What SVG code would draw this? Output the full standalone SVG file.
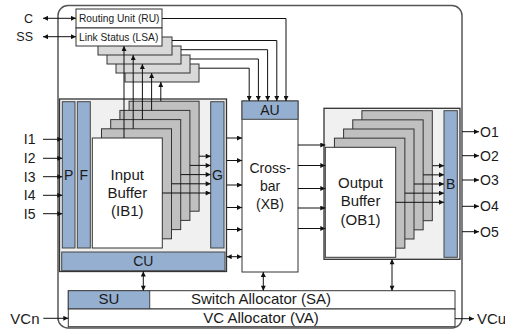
<svg xmlns="http://www.w3.org/2000/svg" width="505" height="331" viewBox="0 0 505 331">
<defs>
<marker id="ah" viewBox="0 0 6 6" refX="6" refY="3" markerWidth="6" markerHeight="5" markerUnits="userSpaceOnUse" orient="auto-start-reverse">
<path d="M0,0 L6,3 L0,6 z" fill="#111"/>
</marker>
<style>
text{font-family:"Liberation Sans",Arial,sans-serif;fill:#1a1a1a}
.box{fill:#fff;stroke:#333;stroke-width:1}
.blue{fill:#95afd0;stroke:#444;stroke-width:1}
.cont{fill:#f0f0f0;stroke:#333;stroke-width:1.3}
.lay{fill:#c0c0c0;stroke:#333;stroke-width:1}
.lsa{fill:#d9d9d9;stroke:#333;stroke-width:1}
.ln{fill:none;stroke:#111;stroke-width:1}
.ar{fill:none;stroke:#111;stroke-width:1;marker-end:url(#ah)}
.dar{fill:none;stroke:#111;stroke-width:1;marker-end:url(#ah);marker-start:url(#ah)}
.s10{font-size:10.2px}
.s12{font-size:12.5px}
.s14{font-size:14px}
.s15{font-size:15px}
.mid{text-anchor:middle}
.end{text-anchor:end}
</style>
</defs>
<rect x="58" y="5.5" width="404" height="322.5" rx="10" fill="#fff" stroke="#555" stroke-width="1.5"/>

<g id="lsa-stack">
<rect class="lsa" x="125" y="64" width="74" height="18"/>
<rect class="lsa" x="116" y="55" width="74" height="18"/>
<rect class="lsa" x="107" y="46" width="74" height="18"/>
<rect class="lsa" x="98" y="37" width="74" height="18"/>
</g>
<g id="ru">
<rect class="box" x="76" y="9" width="86" height="19"/>
<text class="s10" x="79" y="22">Routing Unit (RU)</text>
</g>
<g id="lsa">
<rect class="box" x="76" y="28" width="86" height="18"/>
<text class="s10" x="79" y="40.5">Link Status (LSA)</text>
</g>

<g id="input-unit">
<rect class="cont" x="59.5" y="99" width="167" height="172.5"/>
<g id="p"><rect class="blue" x="62.3" y="101.7" width="12.7" height="146.3"/><text class="s14 mid" x="68.6" y="179.5">P</text></g>
<g id="f"><rect class="blue" x="77.3" y="101.7" width="13" height="146.3"/><text class="s14 mid" x="83.8" y="179.5">F</text></g>
<g id="g"><rect class="blue" x="210.7" y="101.7" width="13.3" height="146.3"/><text class="s14 mid" x="217.4" y="179.5">G</text></g>
<g id="ib">
<rect class="lay" x="129.1" y="101.2" width="70" height="110"/>
<rect class="lay" x="119.9" y="110.4" width="70" height="110"/>
<rect class="lay" x="110.7" y="119.6" width="70" height="110"/>
<rect class="lay" x="101.5" y="128.8" width="70" height="110"/>
<rect class="box" x="92.3" y="138" width="70" height="110"/>
<text class="s15 mid" x="127.3" y="179.5">Input</text>
<text class="s15 mid" x="127.3" y="197.8">Buffer</text>
<text class="s15 mid" x="127.3" y="216">(IB1)</text>
</g>
<g id="cu"><rect class="blue" x="61.7" y="252" width="163.3" height="18.7"/><text class="s14 mid" x="143.3" y="266">CU</text></g>
</g>

<g id="xb">
<rect class="box" x="242" y="101" width="56" height="171"/>
<rect class="blue" x="242" y="101" width="56" height="18.3"/>
<text class="s14 mid" x="270" y="115">AU</text>
<text class="s14 mid" x="270" y="173.3">Cross-</text>
<text class="s14 mid" x="270" y="190.8">bar</text>
<text class="s14 mid" x="270" y="208.5">(XB)</text>
</g>

<g id="output-unit">
<rect class="cont" x="324" y="108.3" width="136" height="151"/>
<g id="ob">
<rect class="lay" x="361.9" y="110.7" width="70.4" height="110"/>
<rect class="lay" x="352.75" y="119.85" width="70.4" height="110"/>
<rect class="lay" x="343.6" y="129" width="70.4" height="110"/>
<rect class="lay" x="334.45" y="138.15" width="70.4" height="110"/>
<rect class="box" x="325.3" y="147.3" width="70.4" height="110"/>
<text class="s15 mid" x="360.5" y="187.5">Output</text>
<text class="s15 mid" x="360.5" y="206">Buffer</text>
<text class="s15 mid" x="360.5" y="224.5">(OB1)</text>
</g>
<g id="b"><rect class="blue" x="444" y="110.7" width="13.3" height="146.6"/><text class="s14 mid" x="450.6" y="189">B</text></g>
</g>

<g id="allocators">
<rect class="box" x="68.3" y="290.7" width="386.7" height="18.3"/>
<rect class="blue" x="68.3" y="290.7" width="81.4" height="18.3"/>
<text class="s15 mid" x="109" y="304.3">SU</text>
<text class="s15 mid" x="261" y="304.3">Switch Allocator (SA)</text>
<rect class="box" x="68.3" y="309" width="386.7" height="17.7"/>
<text class="s15 mid" x="261" y="322.5">VC Allocator (VA)</text>
</g>

<g id="labels">
<text class="s12 end" x="33" y="22.8">C</text>
<text class="s12 end" x="33" y="41">SS</text>
<text class="s14 end" x="35.5" y="144.2">I1</text>
<text class="s14 end" x="35.5" y="163.2">I2</text>
<text class="s14 end" x="35.5" y="181.6">I3</text>
<text class="s14 end" x="35.5" y="200.2">I4</text>
<text class="s14 end" x="35.5" y="218.6">I5</text>
<text class="s14" x="480" y="136.7">O1</text>
<text class="s14" x="480" y="160.7">O2</text>
<text class="s14" x="480" y="185">O3</text>
<text class="s14" x="480" y="211.3">O4</text>
<text class="s14" x="480" y="236.7">O5</text>
<text class="s15 end" x="39.5" y="323.5">VCn</text>
<text class="s15" x="477" y="324">VCu</text>
</g>

<g id="connectors">
<line class="dar" x1="43" y1="18.3" x2="76" y2="18.3"/>
<line class="dar" x1="43" y1="36.7" x2="76" y2="36.7"/>
<line class="ar" x1="124" y1="138" x2="124" y2="46"/>
<line class="ar" x1="133.2" y1="128.8" x2="133.2" y2="55"/>
<line class="ar" x1="142.4" y1="119.6" x2="142.4" y2="64"/>
<line class="ar" x1="151.6" y1="110.4" x2="151.6" y2="73"/>
<line class="ar" x1="160.8" y1="101.2" x2="160.8" y2="82"/>
<path class="ar" d="M162,18.5 H286 V101"/>
<path class="ar" d="M172,40.5 H276.8 V101"/>
<path class="ar" d="M181,49.7 H267.6 V101"/>
<path class="ar" d="M190,59 H258.4 V101"/>
<path class="ar" d="M199,68.2 H249.2 V101"/>
<line class="ar" x1="43" y1="139.3" x2="62.3" y2="139.3"/>
<line class="ar" x1="43" y1="158.3" x2="62.3" y2="158.3"/>
<line class="ar" x1="43" y1="176.7" x2="62.3" y2="176.7"/>
<line class="ar" x1="43" y1="195.3" x2="62.3" y2="195.3"/>
<line class="ar" x1="43" y1="213.7" x2="62.3" y2="213.7"/>
<line class="ar" x1="162.3" y1="193" x2="210.7" y2="193"/>
<line class="ar" x1="171.5" y1="183.8" x2="210.7" y2="183.8"/>
<line class="ar" x1="180.7" y1="174.6" x2="210.7" y2="174.6"/>
<line class="ar" x1="189.9" y1="165.4" x2="210.7" y2="165.4"/>
<line class="ar" x1="199.1" y1="156.2" x2="210.7" y2="156.2"/>
<line class="ar" x1="226.7" y1="138" x2="242" y2="138"/>
<line class="ar" x1="226.7" y1="160.5" x2="242" y2="160.5"/>
<line class="ar" x1="226.7" y1="185" x2="242" y2="185"/>
<line class="ar" x1="226.7" y1="207.5" x2="242" y2="207.5"/>
<line class="ar" x1="226.7" y1="229.5" x2="242" y2="229.5"/>
<line class="dar" x1="226.7" y1="256.7" x2="242" y2="256.7"/>
<line class="ar" x1="298" y1="145" x2="325.3" y2="145"/>
<line class="ar" x1="298" y1="165.5" x2="325.3" y2="165.5"/>
<line class="ar" x1="298" y1="188.5" x2="325.3" y2="188.5"/>
<line class="ar" x1="298" y1="208" x2="325.3" y2="208"/>
<line class="ar" x1="298" y1="228.5" x2="325.3" y2="228.5"/>
<line class="ar" x1="395.7" y1="202.3" x2="444" y2="202.3"/>
<line class="ar" x1="404.85" y1="193.15" x2="444" y2="193.15"/>
<line class="ar" x1="414" y1="184" x2="444" y2="184"/>
<line class="ar" x1="423.15" y1="174.85" x2="444" y2="174.85"/>
<line class="ar" x1="432.3" y1="165.7" x2="444" y2="165.7"/>
<line class="ar" x1="462" y1="131.7" x2="479" y2="131.7"/>
<line class="ar" x1="462" y1="155.7" x2="479" y2="155.7"/>
<line class="ar" x1="462" y1="180" x2="479" y2="180"/>
<line class="ar" x1="462" y1="206.3" x2="479" y2="206.3"/>
<line class="ar" x1="462" y1="231.7" x2="479" y2="231.7"/>
<line class="dar" x1="143.3" y1="271.5" x2="143.3" y2="290.7"/>
<line class="dar" x1="263.3" y1="272" x2="263.3" y2="290.7"/>
<line class="dar" x1="392" y1="259.3" x2="392" y2="290.7"/>
<line class="ar" x1="43.3" y1="318.3" x2="68.3" y2="318.3"/>
<line class="ar" x1="455" y1="318.7" x2="474" y2="318.7"/>
</g>
</svg>
